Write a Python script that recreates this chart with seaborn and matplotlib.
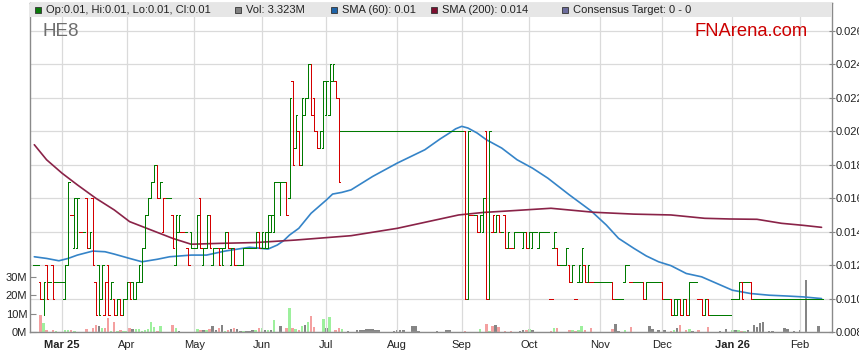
import numpy as np
import pandas as pd
import seaborn as sns
import matplotlib.pyplot as plt
from matplotlib.patches import Rectangle

# trading days on the chart (Feb 2025 - Feb 2026)
dates = pd.bdate_range('2025-02-18', '2026-02-11')

# prices in units of 0.001
opens = [12,12,11,10,12,11,12,11,11,11, 10,12,15,13,13,14,14,16,13,16,
         11,12,10,9,12,10,10,9,10,9, 10,11,11,10,11,11,13,15,16,17,
         18,16,14,16,16,15,12,14,14,14, 13,14,13,13,16,12,13,15,12,13,
         13,13,13,14,12,13,12,12,12,13, 13,13,13,14,13,13,13,14,14,17,
         17,17,17,16,23,19,20,18,21,22, 24,22,20,19,19,21,21,23,23,22,
         20,20,20,20,20,20,20,20,20,20, 20,20,20,20,20,20,20,20,20,20,
         20,20,20,20,20,20,20,20,20,20, 20,20,20,20,20,20,20,20,20,20,
         20,10,15,15,15,14,14,20,10,14, 14,15,14,15,13,13,13,14,14,13,
         14,13,13,14,13,14,14,14,10,13, 13,12,12,12,12,11,10,11,11,12,
         11,11,11,11,11,11,11,11,11,10, 10,10,11,12,11,11,11,11,11,10,
         11,11,11,11,11,10,10,10,9,9, 10,9,10,9,11,11,10,10,9,10,
         9,9,9,9,9,9,9,10,10,10, 11,11,11,11,10,10,10,10,10,10,
         10,10,10,10,10,10,10,10,10,10, 10,10,10,10,10,10,10]
highs = [12,12,11,11,12,11,12,11,11,11, 12,17,15,16,16,14,14,16,14,16,
         11,12,12,11,12,11,10,10,10,10, 11,11,11,11,12,13,15,16,17,18,
         18,17,16,16,16,15,15,15,14,14, 13,14,13,15,16,13,15,15,13,13,
         13,13,14,14,13,13,12,12,13,13, 13,13,14,14,14,14,15,15,17,17,
         17,17,17,22,23,21,20,22,22,24, 24,22,20,20,23,23,24,24,23,22,
         20,20,20,20,20,20,20,20,20,20, 20,20,20,20,20,20,20,20,20,20,
         20,20,20,20,20,20,20,20,20,20, 20,20,20,20,20,20,20,20,20,20,
         20,20,15,15,15,15,16,20,20,15, 15,15,14,15,14,13,14,14,14,14,
         14,14,14,14,14,14,14,14,10,14, 13,12,12,13,12,12,10,12,13,12,
         12,11,11,11,11,11,11,11,11,10, 10,10,12,12,11,11,11,11,11,11,
         11,11,11,11,11,10,10,10,10,10, 10,10,10,11,11,11,10,10,10,10,
         9,9,9,9,9,9,9,10,10,11, 11,11,11,11,10,10,10,10,10,10,
         10,10,10,10,10,10,10,10,10,10, 10,10,10,10,10,10,10]
lows = [12,12,10,9,10,11,10,11,11,11, 10,12,15,13,13,14,14,13,13,12,
        9,9,10,9,9,10,9,9,9,9, 10,10,10,10,11,11,13,15,16,17,
        16,16,14,16,16,13,12,14,14,14, 12,13,13,13,13,12,13,13,12,13,
        12,12,13,13,12,12,12,12,12,13, 13,13,13,13,13,13,13,14,14,17,
        15,17,15,16,18,19,18,18,21,22, 21,20,19,19,19,21,21,23,22,17,
        20,20,20,20,20,20,20,20,20,20, 20,20,20,20,20,20,20,20,20,20,
        20,20,20,20,20,20,20,20,20,20, 20,20,20,20,20,20,20,20,20,20,
        10,10,15,15,14,14,14,10,10,14, 14,14,14,13,13,13,13,14,14,13,
        13,13,13,14,13,14,14,14,10,13, 12,12,12,12,11,11,10,11,11,11,
        11,11,11,11,11,11,11,11,10,10, 10,10,11,12,11,11,11,11,10,10,
        11,11,11,11,10,10,10,9,9,9, 9,9,9,9,11,11,10,9,9,9,
        9,9,9,9,9,9,9,10,10,10, 10,11,11,10,10,10,10,10,10,10,
        10,10,10,10,10,10,10,10,10,10, 10,10,10,10,10,10,10]
closes = [12,12,10,11,10,11,10,11,11,11, 12,17,15,16,16,14,14,13,14,12,
          9,9,12,11,9,11,9,10,9,10, 11,10,10,11,12,13,15,16,17,18,
          16,17,16,16,16,13,15,15,14,14, 12,13,13,15,13,13,15,13,13,13,
          12,12,14,13,13,12,12,12,13,13, 13,13,14,13,14,14,15,15,17,17,
          17,17,15,22,18,21,18,22,22,24, 21,20,19,20,23,23,24,24,22,17,
          20,20,20,20,20,20,20,20,20,20, 20,20,20,20,20,20,20,20,20,20,
          20,20,20,20,20,20,20,20,20,20, 20,20,20,20,20,20,20,20,20,20,
          10,20,15,15,14,15,16,10,20,15, 15,14,14,13,14,13,14,14,14,14,
          13,14,14,14,14,14,14,14,10,14, 12,12,12,13,11,12,10,12,13,11,
          12,11,11,11,11,11,11,11,10,10, 10,10,12,12,11,11,11,11,10,11,
          11,11,11,11,10,10,10,9,10,10, 9,10,9,11,11,11,10,9,10,9,
          9,9,9,9,9,9,9,10,10,11, 10,11,11,10,10,10,10,10,10,10,
          10,10,10,10,10,10,10,10,10,10, 10,10,10,10,10,10,10]
# volume in millions
volume = [0,0,9,5,1,0,1,0.5,0,0, 1,1,1,0.5,0,0,0,1.5,0,2,
          4,3,2,2,7.5,0.5,5.4,0.5,1,0.5, 0.7,2,1.5,1.5,1.5,0.7,1.2,1.5,5.4,2.5,
          0.7,3,0,0,0,3.7,2,0.5,0,0, 0,0,0,1.5,1,1,1,1.7,3,1,
          2,3.7,0.7,1,1.4,2,1.5,0.7,0.7,0.5, 0.5,1,1.2,2.3,2.3,1,1,1,6.5,0,
          3,0,2.3,13,2,1.5,1,3,3.7,5.4, 8.6,2.8,0,0,7,2,8,0,1,2,
          1.5,0,0.5,0,0,1,1,1,1.5,1.5, 1.5,1,1,0,0,0,0,0.5,1,1,
          1,0,0,3,3,0.5,0,0,0,0, 0,0.5,0,0,1,1,0,0,0,0,
          0.5,0,0,0,0,1.6,0,4.3,0.5,3.2, 3.8,2.5,0,0.5,0,0.5,0,0,0.5,1,
          1,1.6,1,0,0,0,0,0,0.5,2.2, 2.2,0,0,0,1,1,0.5,1,3.2,1,
          0,2.2,0,0,0,0,0,0,1.6,4.3, 0.5,0,1,0,2.5,0,0,0,0,0,
          3,1.5,0,1,0,1,0,0.5,1,2.2, 3.6,0,1,1.5,0.5,0,1,0,0,2.5,
          0,0,0,0.5,0,1.6,0,1,1,1, 0.5,0.5,1,0,3.6,2.5,5,5.4,0,0.5,
          0.5,0,0,0,2.2,1.5,0,0.5,0,1, 0,28,0,0,0,3.2,0]

# moving averages (bar number, price in 0.001)
sma60_bar = [0, 4, 8, 11, 14, 19, 23, 26, 31, 35, 40, 44, 51, 56, 62, 70, 76,
             79, 81, 83, 86, 90, 95, 97, 100, 103, 110, 118, 127, 132, 135, 137,
             139, 141, 144, 147, 152, 157, 162, 167, 174, 181, 186, 190, 195,
             199, 203, 207, 212, 217, 222, 227, 233, 239, 245, 250, 256]
sma60_val = [12.5, 12.4, 12.26, 12.4, 12.6, 12.84, 12.8, 12.66, 12.4, 12.2,
             12.35, 12.5, 12.6, 12.6, 12.84, 13.07, 12.96, 13.2, 13.45, 13.8,
             14.2, 15.1, 15.9, 16.25, 16.35, 16.5, 17.3, 18.1, 18.9, 19.55,
             19.9, 20.15, 20.3, 20.2, 19.9, 19.5, 19.0, 18.3, 17.8, 17.2,
             16.2, 15.25, 14.4, 13.6, 13.0, 12.55, 12.2, 11.97, 11.5, 11.3,
             10.9, 10.5, 10.3, 10.2, 10.15, 10.1, 10.0]
sma200_bar = [0, 4, 9, 14, 20, 26, 31, 38, 45, 51, 60, 72, 85, 103, 118, 128,
              138, 146, 155, 168, 182, 195, 207, 218, 226, 235, 243, 250, 256]
sma200_val = [19.2, 18.3, 17.5, 16.8, 16.0, 15.3, 14.6, 14.1, 13.6, 13.25, 13.3,
              13.35, 13.5, 13.76, 14.2, 14.6, 15.0, 15.15, 15.25, 15.4, 15.16,
              15.05, 15.0, 14.8, 14.76, 14.74, 14.5, 14.38, 14.26]

price_ticks = [0.008, 0.010, 0.012, 0.014, 0.016, 0.018, 0.020, 0.022, 0.024, 0.026]
vol_ticks = [0, 10, 20, 30]

legend_items = [('Op:0.01, Hi:0.01, Lo:0.01, Cl:0.01', '#0a7a0a', 35),
                ('Vol: 3.323M', '#808080', 235),
                ('SMA (60): 0.01', '#1f64a8', 331),
                ('SMA (200): 0.014', '#7d1030', 431),
                ('Consensus Target: 0 - 0', '#6c6c9c', 562)]

df = pd.DataFrame({'date': dates, 'open': np.array(opens) / 1000,
                   'high': np.array(highs) / 1000, 'low': np.array(lows) / 1000,
                   'close': np.array(closes) / 1000, 'vol': volume})
df['x'] = np.arange(len(df))
prev = df['close'].shift(1).fillna(df['close'])
bar_col = np.where(df['close'] < prev - 1e-9, '#d40000', '#007a00')
vol_col = np.where(df['close'] > prev + 1e-9, '#9df09d',
                   np.where(df['close'] < prev - 1e-9, '#f4a0a0', '#858585'))

sns.set_style('white')
plt.rcParams['font.family'] = ['Liberation Sans', 'DejaVu Sans']

W, H = 859, 363
fig = plt.figure(figsize=(W / 100, H / 100), dpi=100)
ax = fig.add_axes([30 / W, 31 / H, 802 / W, 329 / H])
vax = ax.twinx()
ax.set_zorder(vax.get_zorder() + 1)
ax.patch.set_visible(False)

# volume
vax.bar(df['x'], df['vol'], width=0.8, color=vol_col, linewidth=0)
vax.set_ylim(0, 329 / 1.845)
vax.yaxis.tick_left()
vax.set_yticks(vol_ticks)
vax.set_yticklabels([f'{v}M' for v in vol_ticks])
vax.tick_params(axis='y', direction='in', length=4, pad=2, labelsize=8,
                labelcolor='#222222', color='#888888')
for s in vax.spines.values():
    s.set_visible(False)

# OHLC bars
ax.vlines(df['x'], df['low'], df['high'], colors=bar_col, lw=0.72, zorder=4,
          antialiased=False)
ax.hlines(df['open'], df['x'] - 0.52, df['x'], colors=bar_col, lw=0.72, zorder=4,
          antialiased=False)
ax.hlines(df['close'], df['x'], df['x'] + 0.52, colors=bar_col, lw=0.72, zorder=4,
          antialiased=False)

sns.lineplot(x=sma60_bar, y=np.array(sma60_val) / 1000, ax=ax, color='#3584c8',
             lw=1.2, legend=False, zorder=3)
sns.lineplot(x=sma200_bar, y=np.array(sma200_val) / 1000, ax=ax, color='#8a2348',
             lw=1.2, legend=False, zorder=3)

ax.set_xlim(-1.4, 259.4)
ax.set_ylim(0.008, 0.008 + 329 / 16.72 / 1000)
ax.yaxis.tick_right()
ax.set_yticks(price_ticks)
ax.set_yticklabels([f'{p:.3f}' for p in price_ticks])
ax.tick_params(axis='y', direction='inout', length=4, pad=0.5, labelsize=8,
               labelcolor='#222222', color='#888888')

# month ticks at the first trading day of each month
m = df['date'].dt.month
starts = df.index[m != m.shift(1)][1:]
labels, bold = [], []
for k, i in enumerate(starts):
    d = df['date'][i]
    yr = (k == 0) or d.month == 1
    labels.append(d.strftime('%b %y') if yr else d.strftime('%b'))
    bold.append(yr)
ax.set_xticks(starts)
ax.set_xticklabels(labels)
for t, b in zip(ax.get_xticklabels(), bold):
    if b:
        t.set_fontweight('bold')
ax.tick_params(axis='x', direction='out', length=4, pad=2, labelsize=8,
               labelcolor='#222222', color='#888888')
ax.set_xlabel('')
ax.set_ylabel('')

ax.grid(True, color='#dadada', lw=0.9)
ax.set_axisbelow(True)
for s in ax.spines.values():
    s.set_color('#8a8a8a')
    s.set_linewidth(1)

# legend strip
ax.add_patch(Rectangle((0, 1 - 14 / 329), 1, 14 / 329, transform=ax.transAxes,
                       facecolor='#e6e6e6', edgecolor='none', zorder=6))
for txt, col, px in legend_items:
    fig.add_artist(Rectangle((px / W, 1 - 13 / H), 6 / W, 6 / H,
                             transform=fig.transFigure, facecolor=col,
                             edgecolor='#333333', lw=0.6, zorder=10))
    fig.text((px + 11) / W, 1 - 10 / H, txt, fontsize=8, color='#222222',
             va='center', ha='left', zorder=11)

fig.text(42 / W, 1 - 31 / H, 'HE8', fontsize=13.5, color='#6e6e6e', va='center')
fig.text(808 / W, 1 - 32 / H, 'FNArena.com', fontsize=13.2, color='#cc0000',
         va='center', ha='right')

fig.savefig('out.png', dpi=100, facecolor='white')
